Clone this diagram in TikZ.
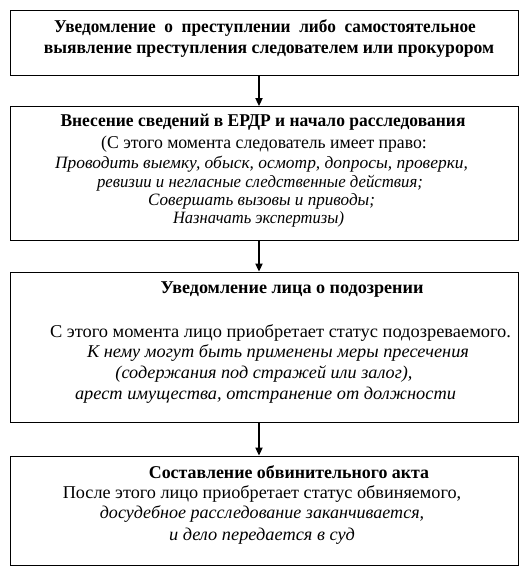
\documentclass[tikz,border=0pt]{standalone}
\usepackage{fontspec}
\setmainfont{Liberation Serif}
\usetikzlibrary{arrows.meta}
\newsavebox\flbox
% \fl{target width in px}{text}: set text at the target width
\newcommand\fl[2]{\sbox\flbox{#2}\pgfmathsetmacro\sxf{#1*0.75/\the\wd\flbox}\scalebox{\sxf}[1]{\usebox\flbox}}
\tikzset{
  box/.style={draw=black, line width=0.8pt, rectangle, minimum width=381.4pt, inner sep=0pt, anchor=north west},
  arr/.style={draw=black, line width=0.8pt, -{Triangle[length=6pt,width=5.5pt]}},
  txt/.style={anchor=mid, inner sep=0pt, yshift=-1.8pt, font=\fontsize{13.5pt}{15pt}\selectfont},
  bt/.style={txt, font=\fontsize{13.5pt}{15pt}\selectfont\bfseries},
  it/.style={txt, font=\fontsize{13.5pt}{15pt}\selectfont\itshape},
  it2/.style={txt, font=\fontsize{13pt}{15pt}\selectfont\itshape}
}
\begin{document}
\begin{tikzpicture}[x=0.75pt,y=-0.75pt]
\useasboundingbox (0,0) rectangle (530,576);
% boxes
\node[box, minimum height=48.75pt] (b1) at (9.5,10.3) {};
\node[box, minimum height=100.5pt] (b2) at (9.5,106) {};
\node[box, minimum height=112.9pt] (b3) at (9.5,271.5) {};
\node[box, minimum height=82.1pt] (b4) at (9.5,455.5) {};
% arrows
\coordinate (ax) at (259,0);
\draw[arr] (b1.south -| ax) -- (b2.north -| ax);
\draw[arr] (b2.south -| ax) -- (b3.north -| ax);
\draw[arr] (b3.south -| ax) -- (b4.north -| ax);
% box 1 text
\node[bt] (t1a) at (265,26.6) {\fl{421.8}{Уведомление\ \ о\ \ преступлении\ \ либо\ \ самостоятельное}};
\node[bt] (t1b) at (269,48.3) {\fl{450.5}{выявление преступления следователем или прокурором}};
% box 2 text
\node[bt] (t2a) at (263,121.5) {\fl{405}{Внесение сведений в ЕРДР и начало расследования}};
\node[txt] (t2b) at (264,143) {\fl{325.6}{(С этого момента следователь имеет право:}};
\node[it2] (t2c) at (261.5,163) {\fl{413}{Проводить выемку, обыск, осмотр, допросы, проверки,}};
\node[it2] (t2d) at (260,181.7) {\fl{326}{ревизии и негласные следственные действия;}};
\node[it2] (t2e) at (261.5,200) {\fl{227}{Совершать вызовы и приводы;}};
\node[it2] (t2f) at (258.5,218) {\fl{171}{Назначать экспертизы)}};
% box 3 text
\node[bt] (t3a) at (292,288.4) {\fl{263}{Уведомление лица о подозрении}};
\node[txt] (t3b) at (280.5,332.5) {\fl{461}{С этого момента лицо приобретает статус подозреваемого.}};
\node[it] (t3c) at (278,352) {\fl{382}{К нему могут быть применены меры пресечения}};
\node[it] (t3d) at (264,373) {\fl{297}{(содержания под стражей или залог),}};
\node[it] (t3e) at (265.5,394) {\fl{381}{арест имущества, отстранение от должности}};
% box 4 text
\node[bt] (t4a) at (289,472.7) {\fl{280.3}{Составление обвинительного акта}};
\node[txt] (t4b) at (262,493.3) {\fl{398.5}{После этого лицо приобретает статус обвиняемого,}};
\node[it] (t4c) at (262,513.3) {\fl{324.3}{досудебное расследование заканчивается,}};
\node[it] (t4d) at (262,535) {\fl{186}{и дело передается в суд}};
\end{tikzpicture}
\end{document}
